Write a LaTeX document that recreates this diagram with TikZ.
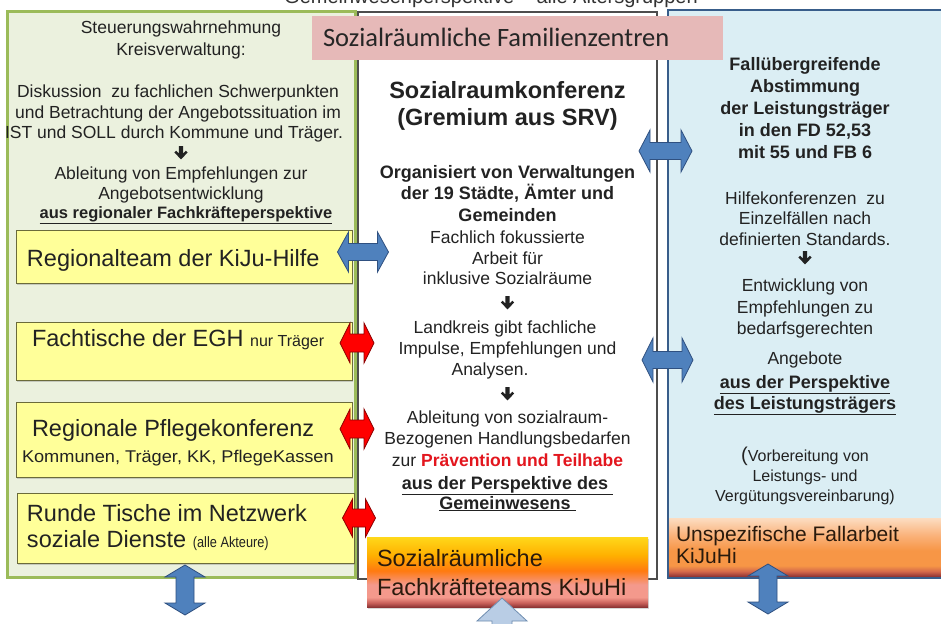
\documentclass[tikz,border=0pt]{standalone}
\usepackage{fontspec}
\setmainfont{Liberation Sans}
\newfontfamily\carlito{Carlito}
\usetikzlibrary{shadows}

\definecolor{greenfill}{HTML}{EBF1DE}
\definecolor{greenline}{HTML}{9BBB59}
\definecolor{bluefill}{HTML}{DBEEF4}
\definecolor{blueline}{HTML}{385D8A}
\definecolor{pinkfill}{HTML}{E6B9B8}
\definecolor{yellowfill}{HTML}{FFFF99}
\definecolor{yellowline}{HTML}{6B6B3A}
\definecolor{midline}{HTML}{4D4D4D}
\definecolor{arrowblue}{HTML}{4F81BD}
\definecolor{arrowblueline}{HTML}{2F5080}
\definecolor{arrowred}{HTML}{FF0000}
\definecolor{arrowredline}{HTML}{8B0000}
\definecolor{lightarrow}{HTML}{B9CDE5}
\definecolor{lightarrowline}{HTML}{6F8DB0}
\definecolor{txt}{HTML}{222222}
\definecolor{redtxt}{HTML}{E3161E}
\definecolor{gradtxt}{HTML}{2A1A0C}
% gradient colours
\definecolor{gA}{HTML}{8E3535}
\definecolor{gB}{HTML}{C9605A}
\definecolor{gC}{HTML}{F4998C}
\definecolor{gD}{HTML}{FF7A10}
\definecolor{gE}{HTML}{FFB000}
\definecolor{gF}{HTML}{FFD81A}
\definecolor{hA}{HTML}{953735}
\definecolor{hB}{HTML}{D4684A}
\definecolor{hC}{HTML}{F79646}
\definecolor{hD}{HTML}{FAB27A}
\definecolor{hE}{HTML}{FCDDC2}
% TikZ maps the path's box onto 25bp..75bp of the shading
\pgfdeclareverticalshading{midgrad}{100bp}{color(0bp)=(gA); color(25bp)=(gA); color(28bp)=(gB); color(32bp)=(gC); color(41bp)=(gC); color(51bp)=(gD); color(62bp)=(gE); color(75bp)=(gF); color(100bp)=(gF)}
\pgfdeclareverticalshading{rightgrad}{100bp}{color(0bp)=(hA); color(25bp)=(hA); color(29bp)=(hB); color(34bp)=(hC); color(47bp)=(hC); color(60bp)=(hD); color(75bp)=(hE); color(100bp)=(hE)}

\tikzset{
  txtline/.style={anchor=base, inner sep=0pt, outer sep=0pt, text=txt},
  txtleft/.style={anchor=base west, inner sep=0pt, outer sep=0pt, text=txt},
  fleft/.style={font=\fontsize{17.5}{21}\selectfont},
  fleftb/.style={font=\fontsize{16.5}{20}\selectfont\bfseries},
  fbig/.style={font=\fontsize{23.5}{26}\selectfont\bfseries},
  fbold/.style={font=\fontsize{18}{21}\selectfont\bfseries},
  freg/.style={font=\fontsize{17.5}{21}\selectfont},
  fsmall/.style={font=\fontsize{16}{19}\selectfont},
  fyel/.style={font=\fontsize{23.5}{26}\selectfont},
  colbox/.style={rectangle, inner sep=0pt, outer sep=0pt},
  ybox/.style={rectangle, inner sep=0pt, outer sep=0pt, fill=yellowfill, draw=yellowline, line width=0.8pt,
      drop shadow={shadow xshift=1.2pt, shadow yshift=-1.5pt, opacity=0.35}},
  pics/dblarr/.style n args={4}{code={
    \path[pic actions] (-#1,0) -- (-#1+#2,#3) -- (-#1+#2,#4) -- (#1-#2,#4) -- (#1-#2,#3) -- (#1,0)
      -- (#1-#2,-#3) -- (#1-#2,-#4) -- (-#1+#2,-#4) -- (-#1+#2,-#3) -- cycle;}},
  pics/downarrow/.style={code={
    \fill[txt] (-2.1,-7) -- (2.1,-7) -- (2.1,0.6) -- (4.9,-2.3) -- (6.7,-0.5) -- (0,6.3)
      -- (-6.7,-0.5) -- (-4.9,-2.3) -- (-2.1,0.6) -- cycle;}},
  bluearr/.style={fill=arrowblue, draw=arrowblueline, line width=0.8pt},
  redarr/.style={fill=arrowred, draw=arrowredline, line width=0.8pt},
}

\begin{document}
\begin{tikzpicture}[x=1pt,y=-1pt]
\useasboundingbox (0,0) rectangle (941,623);
\clip (0,0) rectangle (941,623);
\fill[white] (0,0) rectangle (941,623);

% title (cut at top, as in the reference)
\node[txtline, font=\fontsize{20}{22}\selectfont, text=black!80] (title) at (491,4) {Gemeinwesenperspektive -- alle Altersgruppen};

% columns
\node[colbox, fill=greenfill, draw=greenline, line width=3pt, minimum width=348pt, minimum height=565pt] (lcol) at (181,294.5) {};
\node[colbox, fill=white, draw=midline, line width=1.2pt, minimum width=299pt, minimum height=567pt] (mcol) at (507.5,295.5) {};
\node[colbox, fill=bluefill, minimum width=287pt, minimum height=568pt] (rcol) at (811.5,294) {};
\node[colbox, shading=rightgrad, minimum width=282pt, minimum height=58pt] (rgrad) at (810,547) {};
\draw[blueline, line width=2.8pt] (rcol.north west) rectangle (rcol.south east);

% pink header box
\node[colbox, fill=pinkfill, minimum width=411pt, minimum height=44pt] (pink) at (517.5,38) {};
\node[txtleft, font=\carlito\fontsize{26.5}{30}\selectfont, text=black!85] (pinktxt) at (323,47) {Sozialräumliche Familienzentren};

% left column text
\node[txtline, fleft] (a1) at (181,34) {Steuerungswahrnehmung};
\node[txtline, fleft] (a2) at (181,56) {Kreisverwaltung:};
\node[txtline, fleft] (a3) at (178,98) {Diskussion\ \ zu fachlichen Schwerpunkten};
\node[txtline, fleft] (a4) at (178,118) {und Betrachtung der Angebotssituation im};
\node[txtline, fleft] (a5) at (174,139) {IST und SOLL durch Kommune und Träger.};
\pic (dA) at (181,153) {downarrow};
\node[txtline, fleft] (a6) at (181,179) {Ableitung von Empfehlungen zur};
\node[txtline, fleft] (a7) at (181,199) {Angebotsentwicklung};
\node[txtline, fleftb] (a8) at (186,218) {\underline{aus regionaler Fachkräfteperspektive}};

% yellow boxes
\node[ybox, minimum width=336pt, minimum height=53pt] (y1) at (184,256.5) {};
\node[txtleft, fyel] (y1t) at (27,266) {Regionalteam\ der KiJu-Hilfe};
\node[ybox, minimum width=336pt, minimum height=58pt] (y2) at (184,351) {};
\node[txtleft, fyel] (y2t) at (32,346) {Fachtische\ der EGH\ \fontsize{16}{18}\selectfont nur Träger};
\node[ybox, minimum width=336pt, minimum height=75pt] (y3) at (184,439.5) {};
\node[txtleft, fyel] (y3t) at (32,436) {Regionale\ Pflegekonferenz};
\node[txtleft, font=\fontsize{17}{20}\selectfont] (y3s) at (22,462) {\scalebox{1.07}[1]{Kommunen, Träger, KK, PflegeKassen}};
\node[ybox, minimum width=337pt, minimum height=70pt] (y4) at (185.5,528) {};
\node[txtleft, fyel] (y4t) at (27,521) {Runde Tische im Netzwerk};
\node[txtleft, fyel] (y4s) at (27,547) {soziale Dienste \fontsize{15}{18}\selectfont\scalebox{0.85}[1]{(alle Akteure)}};

% middle column text
\node[txtline, fbig] (b1) at (507.5,99) {Sozialraumkonferenz};
\node[txtline, fbig] (b2) at (507.5,125) {(Gremium\ aus SRV)};
\node[txtline, fbold] (b3) at (507.5,178) {Organisiert von Verwaltungen};
\node[txtline, fbold] (b4) at (507.5,199) {der 19 Städte, Ämter und};
\node[txtline, fbold] (b5) at (507.5,221) {Gemeinden};
\node[txtline, freg] (b6) at (507.5,243) {Fachlich fokussierte};
\node[txtline, freg] (b7) at (507.5,264) {Arbeit für};
\node[txtline, freg] (b8) at (507.5,284) {inklusive\ Sozialräume};
\pic (dB) at (507.5,303) {downarrow};
\node[txtline, freg] (b9) at (505,333) {Landkreis gibt fachliche};
\node[txtline, freg] (b10) at (507.5,354) {Impulse,\ Empfehlungen\ und};
\node[txtline, freg] (b11) at (490,375) {Analysen.};
\pic (dC) at (507.5,394) {downarrow};
\node[txtline, freg] (b12) at (507.5,423) {Ableitung von sozialraum-};
\node[txtline, freg] (b13) at (507.5,444) {Bezogenen Handlungsbedarfen};
\node[txtline, freg] (b14) at (507.5,466) {zur \textcolor{redtxt}{\bfseries Prävention und Teilhabe}};
\node[txtline, fbold] (b15) at (507.5,489) {\underline{aus der Perspektive des\ }};
\node[txtline, fbold] (b16) at (507.5,509) {\underline{Gemeinwesens\ }};

% right column text
\node[txtline, fbold] (c1) at (805,71) {Fallübergreifende};
\node[txtline, fbold] (c2) at (805,93) {Abstimmung};
\node[txtline, fbold] (c3) at (805,114) {der Leistungsträger};
\node[txtline, fbold] (c4) at (805,136) {in den FD 52,53};
\node[txtline, fbold] (c5) at (805,158) {mit 55 und FB 6};
\node[txtline, freg] (c6) at (805,204) {Hilfekonferenzen\ \ zu};
\node[txtline, freg] (c7) at (805,224) {Einzelfällen\ nach};
\node[txtline, freg] (c8) at (805,245) {definierten\ Standards.};
\pic (dD) at (805,258) {downarrow};
\node[txtline, freg] (c9) at (805,291) {Entwicklung\ von};
\node[txtline, freg] (c10) at (805,313) {Empfehlungen\ zu};
\node[txtline, freg] (c11) at (805,334) {bedarfsgerechten};
\node[txtline, freg] (c12) at (805,364) {Angebote};
\node[txtline, fbold] (c13) at (805,388) {\underline{aus der Perspektive}};
\node[txtline, fbold] (c14) at (805,409) {\underline{des Leistungsträgers}};
\node[txtline, fsmall] (c15) at (805,461) {{\fontsize{20}{20}\selectfont(}Vorbereitung\ von};
\node[txtline, fsmall] (c16) at (805,481) {Leistungs- und};
\node[txtline, fsmall] (c17) at (805,501) {Vergütungsvereinbarung)};

% right gradient box text
\node[txtleft, font=\fontsize{21}{24}\selectfont, text=gradtxt] (r1) at (676,541) {Unspezifische Fallarbeit};
\node[txtleft, font=\fontsize{21}{24}\selectfont, text=gradtxt] (r2) at (676,563) {KiJuHi};

% middle gradient box
\node[colbox, shading=midgrad, minimum width=281pt, minimum height=70pt,
      drop shadow={shadow xshift=1pt, shadow yshift=-1.5pt, opacity=0.3}] (mgrad) at (507.5,572) {};
\node[txtleft, font=\fontsize{23.5}{26}\selectfont, text=gradtxt] (m1) at (377,566) {Sozialräumliche};
\node[txtleft, font=\fontsize{23.5}{26}\selectfont, text=gradtxt] (m2) at (377,595) {Fachkräfteteams\ KiJuHi};

% light blue arrow pointing up into the middle gradient box
\coordinate (uptip) at (502,598);
\draw[fill=lightarrow, draw=lightarrowline, line width=0.8pt]
  (uptip) -- ++(25,23) -- ++(-15,0) -- ++(0,20) -- ++(-20,0) -- ++(0,-20) -- ++(-15,0) -- cycle;

% horizontal double arrows
\pic[bluearr] (hA) at (363,252) {dblarr={25.5}{11}{20}{8.5}};
\pic[bluearr] (hB) at (665.5,151) {dblarr={26.5}{11}{21}{8.5}};
\pic[bluearr] (hC) at (667.5,360) {dblarr={25.5}{11}{22}{8.5}};
\pic[redarr] (hD) at (357,343) {dblarr={17}{10}{20}{9}};
\pic[redarr] (hE) at (357,429) {dblarr={17}{10}{20}{9}};
\pic[redarr] (hF) at (359,518) {dblarr={16.5}{10}{19}{9}};

% vertical double arrows at the bottom
\pic[bluearr, rotate=90] (vA) at (185,590) {dblarr={25}{12}{20}{9}};
\pic[bluearr, rotate=90] (vB) at (768,589) {dblarr={25}{12}{20}{9}};
\end{tikzpicture}
\end{document}
